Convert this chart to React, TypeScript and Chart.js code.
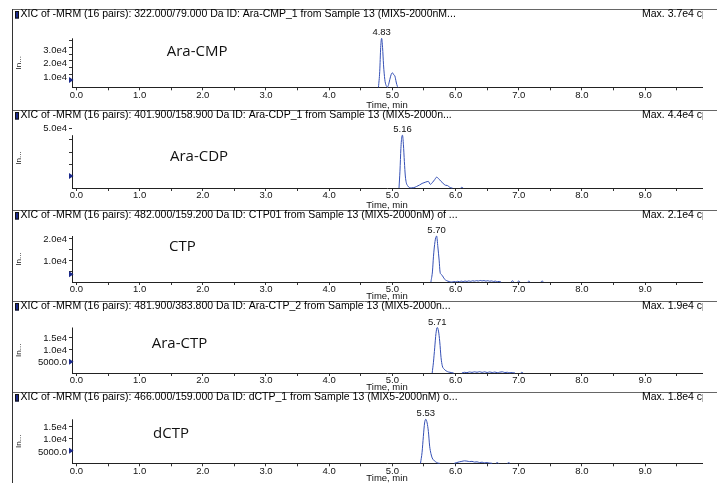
import React, { useEffect, useRef } from "react";
import { Chart, registerables } from "chart.js";

Chart.register(...registerables);

const FONT = "'Liberation Sans', Arial, Helvetica, sans-serif";
const LABEL_FONT = "'Open Sans', 'Noto Sans', sans-serif";
const TRACE = "#3550b5";

// ---------------- data ----------------
const compounds = ["Ara-CMP", "Ara-CDP", "CTP", "Ara-CTP", "dCTP"];
const xicTitles = [
  "XIC of -MRM (16 pairs): 322.000/79.000 Da ID: Ara-CMP_1 from Sample 13 (MIX5-2000nM...",
  "XIC of -MRM (16 pairs): 401.900/158.900 Da ID: Ara-CDP_1 from Sample 13 (MIX5-2000n...",
  "XIC of -MRM (16 pairs): 482.000/159.200 Da ID: CTP01 from Sample 13 (MIX5-2000nM) of ...",
  "XIC of -MRM (16 pairs): 481.900/383.800 Da ID: Ara-CTP_2 from Sample 13 (MIX5-2000n...",
  "XIC of -MRM (16 pairs): 466.000/159.000 Da ID: dCTP_1 from Sample 13 (MIX5-2000nM) o...",
];
const peakTimes = [4.83, 5.16, 5.7, 5.71, 5.53];
const maxIntensity = [37000, 44000, 21000, 19000, 18000];
const yScaleMax = [37000, 50000, 21000, 19000, 18000];
const markerLevels = [5500, 9900, 3500, 4700, 5100];

const xMajorTicks = [0, 1, 2, 3, 4, 5, 6, 7, 8, 9];
const xTickLabels = ["0.0", "1.0", "2.0", "3.0", "4.0", "5.0", "6.0", "7.0", "8.0", "9.0"];
const xMinorTicks = [0.5, 1.5, 2.5, 3.5, 4.5, 5.5, 6.5, 7.5, 8.5, 9.5];

const yMajorTicks = [
  [10000, 20000, 30000],
  [50000],
  [10000, 20000],
  [5000, 10000, 15000],
  [5000, 10000, 15000],
];
const yTickLabels = [
  ["1.0e4", "2.0e4", "3.0e4"],
  ["5.0e4"],
  ["1.0e4", "2.0e4"],
  ["5000.0", "1.0e4", "1.5e4"],
  ["5000.0", "1.0e4", "1.5e4"],
];
const yMinorTicks = [
  [5000, 15000, 25000, 35000],
  [10000, 20000, 30000, 40000],
  [5000, 15000],
  [],
  [],
];

// Ara-CMP
const araCmpTime = [4.78, 4.8, 4.815, 4.83, 4.845, 4.86, 4.88, 4.9, 4.925, 4.94, 4.96, 4.98, 5.0, 5.02, 5.04, 5.06, 5.08, 5.09];
const araCmpIntensity = [0, 12000, 30000, 37000, 30000, 17000, 6000, 1500, 300, 2000, 6000, 9500, 11000, 9500, 8500, 4000, 600, 0];

// Ara-CDP
const araCdpPeakTime = [5.105, 5.12, 5.135, 5.15, 5.16, 5.175, 5.19, 5.205, 5.22, 5.24, 5.27, 5.3];
const araCdpPeakIntensity = [0, 14000, 33000, 43000, 44000, 36000, 22000, 10000, 4500, 2000, 400, 150];
const araCdpBumpTime = [5.34, 5.38, 5.43, 5.47, 5.5, 5.53, 5.57, 5.6, 5.64, 5.67, 5.7, 5.74, 5.77, 5.8, 5.84, 5.87, 5.9, 5.93, 5.95];
const araCdpBumpIntensity = [300, 1200, 2500, 3800, 4400, 5000, 5500, 3000, 5000, 7000, 9000, 7300, 5500, 4000, 2300, 2100, 900, 100, 0];
const araCdpBlipTime = [6.08, 6.1, 6.12];
const araCdpBlipIntensity = [0, 600, 0];

// CTP
const ctpPeakTime = [5.61, 5.635, 5.65, 5.675, 5.7, 5.72, 5.74, 5.755, 5.77, 5.79, 5.82, 5.86, 5.9, 5.94];
const ctpPeakIntensity = [0, 5000, 11500, 18500, 21000, 16000, 10000, 4500, 3500, 3000, 1500, 600, 200, 0];
const ctpNoiseTime = [5.97, 6.0, 6.03, 6.06, 6.09, 6.12, 6.15, 6.18, 6.21, 6.24, 6.27, 6.3, 6.33, 6.36, 6.39, 6.42, 6.45, 6.48, 6.51, 6.54, 6.57, 6.6, 6.63, 6.66, 6.69, 6.72];
const ctpNoiseIntensity = [200, 100, 300, 150, 400, 200, 450, 250, 500, 300, 550, 400, 600, 450, 700, 500, 650, 400, 600, 350, 500, 250, 400, 150, 250, 0];
const ctpBlipTime = [6.88, 6.9, 6.92, 6.95, 6.98, 7.0, 7.02, 7.08, 7.14, 7.16, 7.18, 7.26, 7.35, 7.37, 7.39];
const ctpBlipIntensity = [0, 600, 0, null, 0, 500, 0, null, 0, 400, 0, null, 0, 500, 0];

// Ara-CTP
const araCtpPeakTime = [5.63, 5.65, 5.67, 5.69, 5.71, 5.73, 5.75, 5.77, 5.79, 5.82, 5.85, 5.89, 5.93, 5.97];
const araCtpPeakIntensity = [0, 4500, 10500, 16500, 19000, 17500, 13000, 6500, 3000, 1600, 900, 400, 200, 0];
const araCtpNoiseTime = [6.1, 6.14, 6.18, 6.22, 6.26, 6.3, 6.34, 6.38, 6.42, 6.46, 6.5, 6.54, 6.58, 6.62, 6.66, 6.7, 6.74, 6.78, 6.82, 6.86, 6.9, 6.94];
const araCtpNoiseIntensity = [0, 300, 150, 450, 250, 500, 300, 550, 250, 500, 200, 450, 200, 400, 150, 350, 500, 200, 300, 100, 200, 0];
const araCtpBlipTime = [7.03, 7.05, 7.07];
const araCtpBlipIntensity = [0, 300, 0];

// dCTP
const dctpPeakTime = [5.445, 5.47, 5.49, 5.51, 5.53, 5.55, 5.57, 5.59, 5.61, 5.63, 5.65, 5.68, 5.72, 5.75];
const dctpPeakIntensity = [0, 4500, 10900, 16500, 18000, 16500, 13000, 7000, 4000, 2200, 1400, 700, 100, 0];
const dctpHumpTime = [5.98, 6.02, 6.06, 6.1, 6.14, 6.18, 6.22, 6.26, 6.3, 6.34, 6.38, 6.42, 6.46, 6.5, 6.54, 6.58];
const dctpHumpIntensity = [0, 300, 600, 800, 1000, 900, 700, 800, 500, 600, 300, 450, 200, 300, 100, 0];
const dctpBlipTime = [6.64, 6.66, 6.68, 6.75, 6.82, 6.84, 6.86];
const dctpBlipIntensity = [0, 300, 0, null, 0, 300, 0];

// ---------------- layout ----------------
const panelTop = [9, 110, 210, 301, 392];
const panelHeight = [101, 100, 91, 91, 91];
const plotTop = [29.3, 18, 26, 26.5, 27.3];
const plotBottom = [78.3, 78, 72, 72, 71.3];
const yLabelOffset = [3, 0, 1, 1, 1];
const labelPos = [
  [166.7, 42.7],
  [170, 46.7],
  [169, 36.7],
  [151.7, 42.3],
  [153, 41.3],
];

type Pt = { x: number; y: number | null };
function segment(times: number[], vals: (number | null)[]): Pt[] {
  return times.map((t, i) => ({ x: t, y: vals[i] }));
}
function join(...segs: Pt[][]): Pt[] {
  const out: Pt[] = [];
  segs.forEach((s) => {
    if (out.length && s.length) out.push({ x: (out[out.length - 1].x + s[0].x) / 2, y: null });
    out.push(...s);
  });
  return out;
}

const series: Pt[][] = [
  join(segment(araCmpTime, araCmpIntensity)),
  join([...segment(araCdpPeakTime, araCdpPeakIntensity), ...segment(araCdpBumpTime, araCdpBumpIntensity)], segment(araCdpBlipTime, araCdpBlipIntensity)),
  join([...segment(ctpPeakTime, ctpPeakIntensity), ...segment(ctpNoiseTime, ctpNoiseIntensity)], segment(ctpBlipTime, ctpBlipIntensity)),
  join(segment(araCtpPeakTime, araCtpPeakIntensity), segment(araCtpNoiseTime, araCtpNoiseIntensity), segment(araCtpBlipTime, araCtpBlipIntensity)),
  join(segment(dctpPeakTime, dctpPeakIntensity), segment(dctpHumpTime, dctpHumpIntensity), segment(dctpBlipTime, dctpBlipIntensity)),
];

const panelDecor = {
  id: "panelDecor",
  afterDraw(chart: any, _args: any, opts: any) {
    const i: number = opts.index;
    const { ctx, chartArea } = chart;
    const x = chart.scales.x;
    const y = chart.scales.y;
    ctx.save();
    // frame lines
    ctx.lineWidth = 1;
    ctx.strokeStyle = "#666";
    ctx.beginPath();
    ctx.moveTo(12, 0.5);
    ctx.lineTo(717, 0.5);
    ctx.stroke();
    ctx.strokeStyle = "#333";
    ctx.beginPath();
    ctx.moveTo(12.5, 0);
    ctx.lineTo(12.5, chart.height);
    ctx.stroke();
    // icon
    ctx.fillStyle = "#1b2a8c";
    ctx.fillRect(15, 2.5, 4, 7);
    ctx.strokeStyle = "#111";
    ctx.strokeRect(15.5, 2.5, 3, 6.5);
    // title texts
    ctx.save();
    ctx.beginPath();
    ctx.rect(0, 0, 703, chart.height);
    ctx.clip();
    ctx.font = `10.5px ${FONT}`;
    ctx.fillStyle = "#000";
    ctx.textBaseline = "middle";
    ctx.textAlign = "left";
    ctx.fillText(xicTitles[i], 20.5, 5.5);
    ctx.fillText(`Max. ${(maxIntensity[i] / 1e4).toFixed(1)}e4 cps.`, 642, 5.5);
    ctx.restore();
    // y axis line
    const xl = Math.round(chartArea.left) + 0.5;
    ctx.strokeStyle = "#222";
    ctx.beginPath();
    ctx.moveTo(xl, y.getPixelForValue(maxIntensity[i]));
    ctx.lineTo(xl, y.getPixelForValue(0));
    ctx.stroke();
    // marker triangle
    const my = y.getPixelForValue(markerLevels[i]);
    ctx.fillStyle = "#1b2a8c";
    ctx.beginPath();
    ctx.moveTo(chartArea.left - 3, my - 3);
    ctx.lineTo(chartArea.left + 1.5, my);
    ctx.lineTo(chartArea.left - 3, my + 3);
    ctx.closePath();
    ctx.fill();
    // peak label
    ctx.fillStyle = "#111";
    ctx.font = `9.5px ${FONT}`;
    ctx.textAlign = "center";
    ctx.textBaseline = "middle";
    ctx.fillText(peakTimes[i].toFixed(2), x.getPixelForValue(peakTimes[i]), y.getPixelForValue(maxIntensity[i]) - 5.5);
    // compound label
    ctx.font = `15px ${LABEL_FONT}`;
    ctx.textAlign = "left";
    ctx.fillStyle = "#111";
    ctx.fillText(compounds[i], labelPos[i][0], labelPos[i][1]);
    ctx.restore();
  },
};

function makeConfig(i: number): any {
  const xh = panelHeight[i] - plotBottom[i];
  const yTicks = [...yMajorTicks[i], ...yMinorTicks[i]].sort((a, b) => a - b);
  const xTicks = [...xMajorTicks, ...xMinorTicks].sort((a, b) => a - b);
  return {
    type: "line",
    data: {
      datasets: [
        {
          data: series[i],
          borderColor: TRACE,
          borderWidth: 1,
          pointRadius: 0,
          pointHoverRadius: 0,
          cubicInterpolationMode: "monotone",
          spanGaps: false,
          fill: false,
          clip: 4,
        },
      ],
    },
    options: {
      animation: false,
      responsive: false,
      maintainAspectRatio: false,
      events: [],
      layout: { padding: { top: plotTop[i], right: 15, bottom: 0, left: 0 } },
      plugins: {
        legend: { display: false },
        tooltip: { enabled: false },
        title: { display: false },
        panelDecor: { index: i },
      },
      scales: {
        x: {
          type: "linear",
          min: -0.07,
          max: 9.9,
          afterBuildTicks: (s: any) => {
            s.ticks = xTicks.map((v) => ({ value: v }));
          },
          afterFit: (s: any) => {
            s.height = xh;
          },
          ticks: {
            autoSkip: false,
            maxRotation: 0,
            minRotation: 0,
            padding: 0,
            color: "#111",
            font: { family: FONT, size: 9.5, lineHeight: 1 },
            callback: (v: any) => {
              const k = xMajorTicks.indexOf(Number(v));
              return k >= 0 ? xTickLabels[k] : "";
            },
          },
          grid: { drawOnChartArea: false, drawTicks: true, tickLength: 3, color: "#333" },
          border: { display: true, color: "#222", width: 1 },
          title: {
            display: true,
            text: "Time, min",
            color: "#111",
            padding: 0,
            font: { family: FONT, size: 9.5, lineHeight: 1 },
          },
        },
        y: {
          type: "linear",
          min: 0,
          max: yScaleMax[i],
          afterBuildTicks: (s: any) => {
            s.ticks = yTicks.map((v) => ({ value: v }));
          },
          afterFit: (s: any) => {
            s.width = 72;
          },
          ticks: {
            autoSkip: false,
            padding: 2,
            labelOffset: yLabelOffset[i],
            color: "#111",
            font: { family: FONT, size: 9.5, lineHeight: 1 },
            callback: (v: any) => {
              const k = yMajorTicks[i].indexOf(Number(v));
              return k >= 0 ? yTickLabels[i][k] : "";
            },
          },
          grid: { drawOnChartArea: false, drawTicks: true, tickLength: 3, color: "#333" },
          border: { display: false },
          title: {
            display: true,
            text: "In...",
            color: "#111",
            padding: { top: 14, bottom: 0 },
            font: { family: FONT, size: 8, lineHeight: 1.2 },
          },
        },
      },
    },
    plugins: [panelDecor],
  };
}

function Panel({ index }: { index: number }) {
  const ref = useRef<HTMLCanvasElement>(null);
  useEffect(() => {
    const canvas = ref.current;
    if (!canvas) return;
    const chart = new Chart(canvas, makeConfig(index));
    return () => chart.destroy();
  }, [index]);
  return (
    <canvas
      ref={ref}
      width={717}
      height={panelHeight[index]}
      style={{ position: "absolute", left: 0, top: panelTop[index], width: 717, height: panelHeight[index] }}
    />
  );
}

export default function App() {
  return (
    <div style={{ position: "absolute", left: 0, top: 0, width: 717, height: 483, background: "#fff", overflow: "hidden" }}>
      {compounds.map((_, i) => (
        <Panel key={i} index={i} />
      ))}
    </div>
  );
}
